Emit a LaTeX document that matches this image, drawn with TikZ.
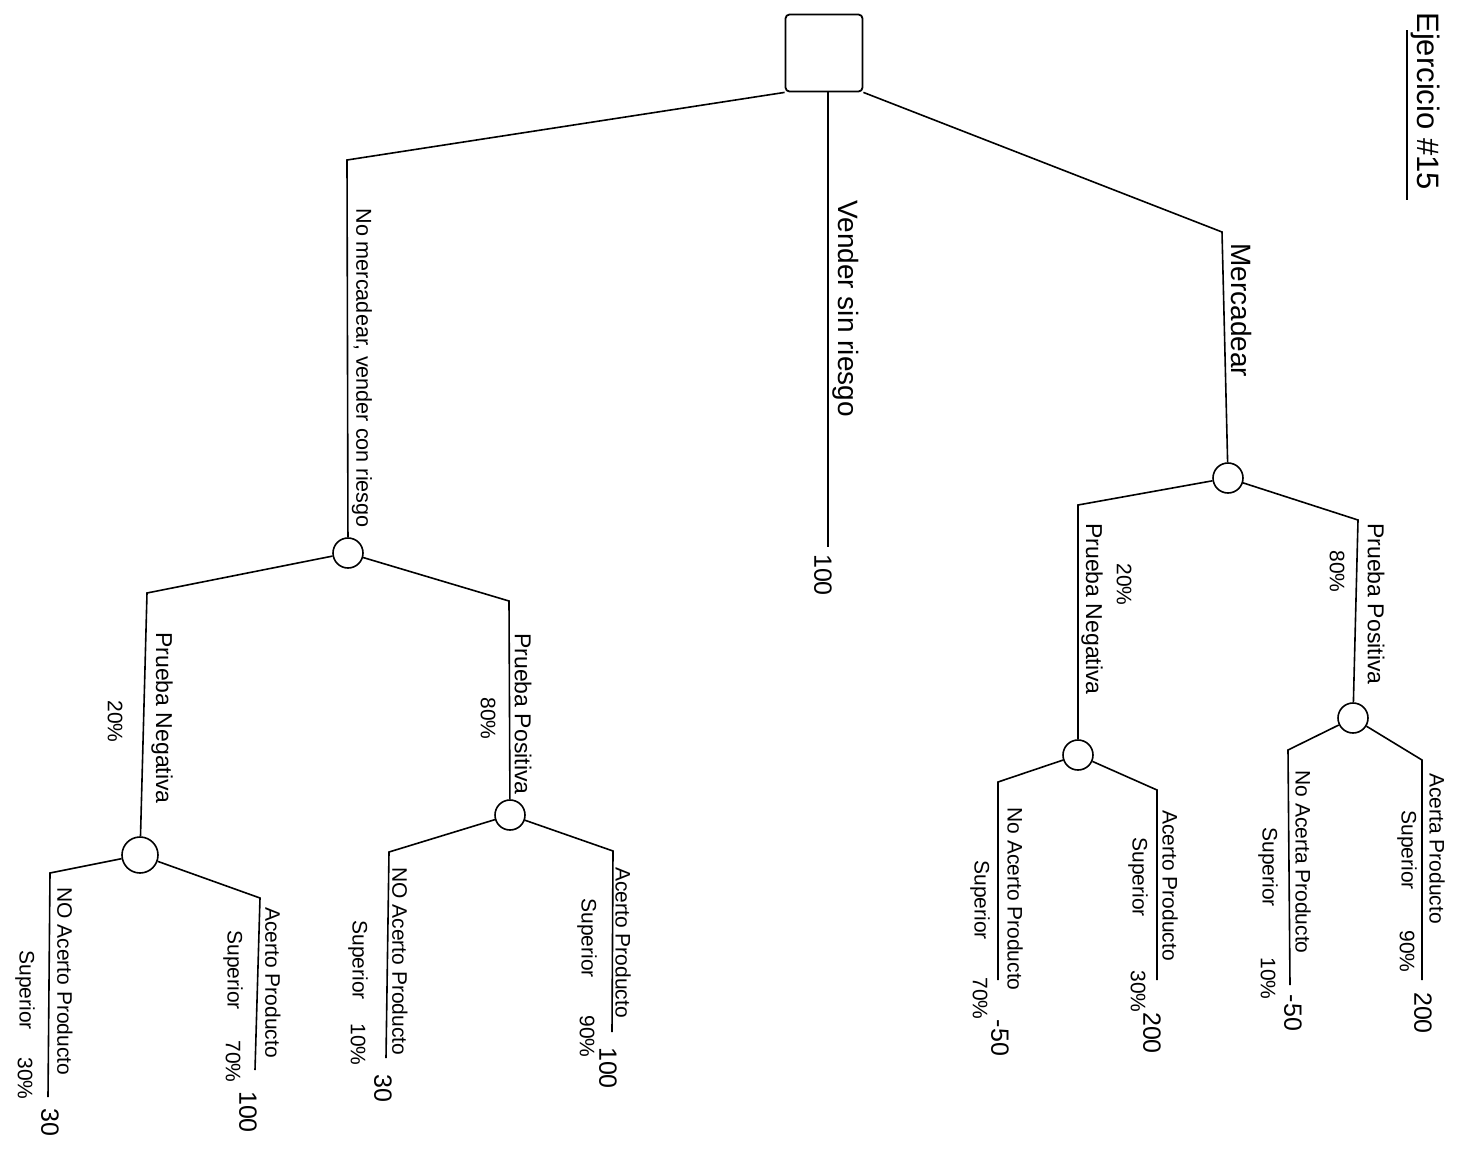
\documentclass[tikz,border=0pt]{standalone}
\usepackage{fontspec}
\setmainfont{Liberation Sans}
\begin{document}
\begin{tikzpicture}[x=0.5pt,y=-0.5pt,
  edge/.style={draw=black, line width=0.8pt},
  chance/.style={circle, draw, line width=0.8pt, minimum size=15pt, inner sep=0pt},
  decision/.style={rectangle, draw, line width=0.9pt, minimum size=38.5pt, rounded corners=2pt, inner sep=0pt},
  lbl/.style={rotate=-90, anchor=west, inner sep=0pt},
  big/.style={font=\fontsize{14}{14}\selectfont},
  mid/.style={font=\fontsize{11.5}{12}\selectfont},
  small/.style={font=\fontsize{10.5}{11}\selectfont},
  pay/.style={rotate=-90, inner sep=0pt, font=\fontsize{12.5}{13}\selectfont},
]
\fill[white] (0,0) rectangle (1462,1163);
\useasboundingbox (0,0) rectangle (1462,1163);

% title
\node[lbl, font=\fontsize{15.5}{16}\selectfont] (title) at (1425,12) {Ejercicio \#15};
\draw[edge] (1407,30) -- (1407,200);

% decision node and its three alternatives
\node[decision] (root) at (824,53) {};
\coordinate (kM) at (1222,232);
\node[chance] (cM) at (1228,478) {};
\coordinate (kN) at (347,160);
\node[chance] (cN) at (348,553) {};
\coordinate (eV) at (828,547);
\draw[edge] (root.south east) -- (kM) -- (cM);
\draw[edge] (root.south west) -- (kN) -- (cN);
\draw[edge] ([xshift=2pt]root.south) -- (eV);

\node[lbl, big] (tM) at (1241,243) {Mercadear};
\node[lbl, big] (tV) at (846,200) {Vender sin riesgo};
\node[lbl, font=\fontsize{10.8}{11}\selectfont] (tN) at (362,208) {No mercadear, vender con riesgo};
\node[pay] (pV) at (823,575) {100};

% Mercadear: test result
\coordinate (kMP) at (1358,520);
\node[chance] (cMP) at (1353,718) {};
\coordinate (kMN) at (1078,505);
\node[chance] (cMN) at (1078,755) {};
\draw[edge] (cM) -- (kMP) -- (cMP);
\draw[edge] (cM) -- (kMN) -- (cMN);
\node[lbl, mid] (tMP) at (1376,523) {Prueba Positiva};
\node[lbl, small] (pMP) at (1337,550) {80\%};
\node[lbl, mid] (tMN) at (1092,523) {Prueba Negativa};
\node[lbl, small] (pMN) at (1124,563) {20\%};

% Mercadear, positive test
\coordinate (kMP1) at (1422,760);
\coordinate (eMP1) at (1422,980);
\draw[edge] (cMP) -- (kMP1) -- (eMP1);
\node[lbl, small] (tMP1) at (1437,773) {Acerta Producto};
\node[lbl, small] (sMP1) at (1407,810) {Superior};
\node[lbl, small] (qMP1) at (1407,930) {90\%};
\node[pay] (vMP1) at (1423,1013) {200};

\coordinate (kMP2) at (1288,750);
\coordinate (eMP2) at (1290,985);
\draw[edge] (cMP) -- (kMP2) -- (eMP2);
\node[lbl, small] (tMP2) at (1303,770) {No Acerta Producto};
\node[lbl, small] (sMP2) at (1268,827) {Superior};
\node[lbl, small] (qMP2) at (1268,957) {10\%};
\node[pay] (vMP2) at (1293,1013) {-50};

% Mercadear, negative test
\coordinate (kMN1) at (1157,790);
\coordinate (eMN1) at (1157,980);
\draw[edge] (cMN) -- (kMN1) -- (eMN1);
\node[lbl, small] (tMN1) at (1170,810) {Acerto Producto};
\node[lbl, small] (sMN1) at (1138,837) {Superior};
\node[lbl, small] (qMN1) at (1138,970) {30\%};
\node[pay] (vMN1) at (1152,1033) {200};

\coordinate (kMN2) at (998,782);
\coordinate (eMN2) at (998,980);
\draw[edge] (cMN) -- (kMN2) -- (eMN2);
\node[lbl, small] (tMN2) at (1015,807) {No Acerto Producto};
\node[lbl, small] (sMN2) at (980,860) {Superior};
\node[lbl, small] (qMN2) at (980,977) {70\%};
\node[pay] (vMN2) at (1000,1038) {-50};

% No mercadear: test result
\coordinate (kNP) at (509,601);
\node[chance] (cNP) at (510,815) {};
\coordinate (kNN) at (147,593);
\node[chance, minimum size=18pt] (cNN) at (140,855) {};
\draw[edge] (cN) -- (kNP) -- (cNP);
\draw[edge] (cN) -- (kNN) -- (cNN);
\node[lbl, mid] (tNP) at (523,633) {Prueba Positiva};
\node[lbl, small] (pNP) at (488,697) {80\%};
\node[lbl, mid] (tNN) at (162,632) {Prueba Negativa};
\node[lbl, small] (pNN) at (115,700) {20\%};

% No mercadear, positive test
\coordinate (kNP1) at (613,851);
\coordinate (eNP1) at (612,1032);
\draw[edge] (cNP) -- (kNP1) -- (eNP1);
\node[lbl, small] (tNP1) at (623,867) {Acerto Producto};
\node[lbl, small] (sNP1) at (587,898) {Superior};
\node[lbl, small] (qNP1) at (587,1015) {90\%};
\node[pay] (vNP1) at (608,1068) {100};

\coordinate (kNP2) at (389,852);
\coordinate (eNP2) at (386,1058);
\draw[edge] (cNP) -- (kNP2) -- (eNP2);
\node[lbl, small] (tNP2) at (400,867) {NO Acerto Producto};
\node[lbl, small] (sNP2) at (358,920) {Superior};
\node[lbl, small] (qNP2) at (358,1023) {10\%};
\node[pay] (vNP2) at (383,1088) {30};

% No mercadear, negative test
\coordinate (kNN1) at (260,898);
\coordinate (eNN1) at (255,1070);
\draw[edge] (cNN) -- (kNN1) -- (eNN1);
\node[lbl, small] (tNN1) at (273,907) {Acerto Producto};
\node[lbl, small] (sNN1) at (233,930) {Superior};
\node[lbl, small] (qNN1) at (233,1040) {70\%};
\node[pay] (vNN1) at (248,1112) {100};

\coordinate (kNN2) at (50,873);
\coordinate (eNN2) at (48,1097);
\draw[edge] (cNN) -- (kNN2) -- (eNN2);
\node[lbl, small] (tNN2) at (65,887) {NO Acerto Producto};
\node[lbl, small] (sNN2) at (25,950) {Superior};
\node[lbl, small] (qNN2) at (25,1057) {30\%};
\node[pay] (vNN2) at (50,1122) {30};
\end{tikzpicture}
\end{document}
